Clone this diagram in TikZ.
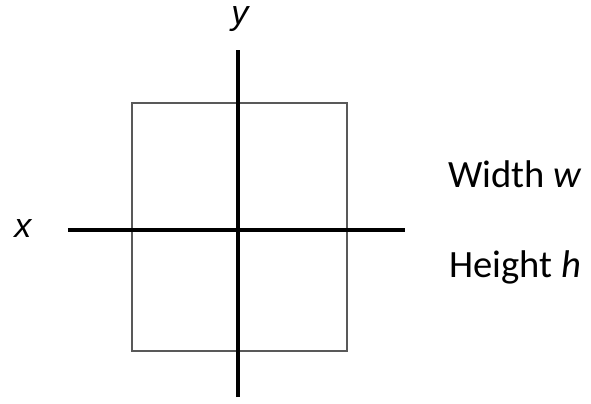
\documentclass[tikz,border=0pt]{standalone}
\usepackage{fontspec}
\setmainfont{Carlito}
\newfontfamily\axisfont{Liberation Sans}
\usetikzlibrary{positioning}

\begin{document}
\begin{tikzpicture}[x=0.5pt,y=-0.5pt,axis/.style={line width=1.6pt},box/.style={draw=black!65,line width=1pt},
  lab/.style={inner sep=0pt,anchor=base west,font=\fontsize{19.3}{23}\selectfont},
  axlab/.style={inner sep=0pt,anchor=base,font=\axisfont\itshape\fontsize{17}{20}\selectfont}]
\useasboundingbox (0,0) rectangle (591,403);
\draw[box] (132,103) rectangle (347,351);
\coordinate (xl) at (68,230);\coordinate (xr) at (405,230);
\coordinate (yb) at (238,397);\coordinate (yt) at (238,50);
\draw[axis] (xl)--(xr);\draw[axis] (yb)--(yt);
\node[axlab] (xlab) at (23,237) {x};
\node[axlab] (ylab) at (240,24) {y};
\node[lab] (wlab) at (448,187) {Width \textit{w}};
\node[lab] (hlab) at (449,277) {Height \textit{h}};
\end{tikzpicture}
\end{document}
